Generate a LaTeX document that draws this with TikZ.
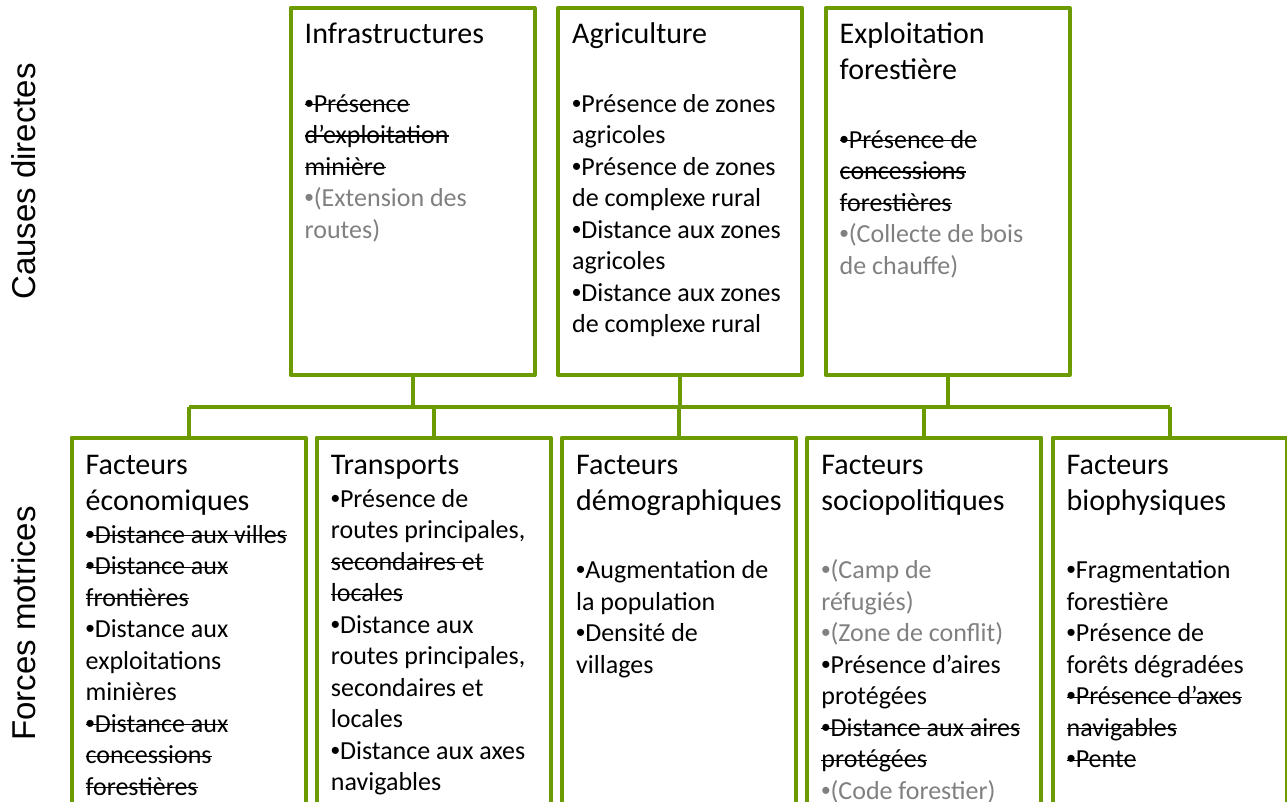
\documentclass[tikz,border=0pt]{standalone}
\usepackage{fontspec}
\setmainfont{Carlito}
\newfontfamily\sidefont{Liberation Sans}
\usepackage{tikz}
\usetikzlibrary{positioning}
\definecolor{boxGreen}{RGB}{107,155,0}
\definecolor{noteGray}{RGB}{128,128,128}
\newcommand{\head}[1]{{\fontsize{30}{36}\selectfont\rule{0pt}{22pt}#1}}
\newcommand{\bul}{{\sidefont •}}
\newsavebox{\gonebox}
\newcommand{\gone}[1]{\sbox{\gonebox}{#1}\rlap{\rule[6.8pt]{\wd\gonebox}{1.4pt}}\usebox{\gonebox}}
\newcommand{\hint}[1]{\textcolor{noteGray}{#1}}

\begin{document}
\begin{tikzpicture}[
        x=1pt, y=-1pt,
        node distance=23.5pt and 23.5pt,
        cause/.style={rectangle, draw=boxGreen, line width=4pt, line join=round, inner sep=0pt, outer sep=0pt, minimum width=244pt, minimum height=367pt},
        force/.style={rectangle, draw=boxGreen, line width=4pt, line join=round, inner sep=0pt, outer sep=0pt, minimum width=234pt, minimum height=420pt},
        txt/.style={anchor=north west, align=left, inner sep=0pt, font=\fontsize{26}{31.5}\selectfont},
        side/.style={anchor=base, rotate=90, inner sep=0pt, font=\sidefont\fontsize{33}{40}\selectfont},
        link/.style={draw=boxGreen, line width=4pt, line join=round}
    ]
        \useasboundingbox (0,0) rectangle (1287,802);
        \clip (0,0) rectangle (1287,802);

        % Side labels
        \node[side] (causes) at (35.5,181.5) {Causes directes};
        \node[side] (forces) at (35.5,623.5) {Forces motrices};

        % Causes directes
        \node[cause] (infra) at (412.5,191.5) {};
        \node[cause, right=of infra] (agri) {};
        \node[cause, right=of agri] (explo) {};

        % Forces motrices
        \node[force] (eco) at (188.5,647.5) {};
        \node[force, right=11.25pt of eco] (trans) {};
        \node[force, right=11.25pt of trans] (demo) {};
        \node[force, right=11.25pt of demo] (socio) {};
        \node[force, right=11.25pt of socio] (bio) {};

        % Connectors
        \coordinate (bus) at (0,406.5);
        \draw[link] (eco.north |- bus) -- (bio.north |- bus);
        \foreach \n in {infra,agri,explo}
            \draw[link] (\n.south) -- (\n.south |- bus);
        \foreach \n in {eco,trans,demo,socio,bio}
            \draw[link] (\n.north) -- (\n.north |- bus);

        % Texts
        \node[txt] (infraT) at ([shift={(14,13.5)}]infra.north west) {
            \head{Infrastructures}\\[37pt]
            \gone{\bul Présence}\\
            \gone{d’exploitation}\\
            \gone{minière}\\
            \hint{\bul(Extension des}\\
            \hint{routes)}
        };
        \node[txt] (agriT) at ([shift={(14,13.5)}]agri.north west) {
            \head{Agriculture}\\[37pt]
            \bul Présence de zones\\
            agricoles\\
            \bul Présence de zones\\
            de complexe rural\\
            \bul Distance aux zones\\
            agricoles\\
            \bul Distance aux zones\\
            de complexe rural
        };
        \node[txt] (exploT) at ([shift={(14,13.5)}]explo.north west) {
            \head{Exploitation}\\[4.5pt]
            \head{forestière}\\[37pt]
            \gone{\bul Présence de}\\
            \gone{concessions}\\
            \gone{forestières}\\
            \hint{\bul(Collecte de bois}\\
            \hint{de chauffe)}
        };
        \node[txt] (ecoT) at ([shift={(14,14.5)}]eco.north west) {
            \head{Facteurs}\\[4.5pt]
            \head{économiques}\\[1.5pt]
            \gone{\bul Distance aux villes}\\
            \gone{\bul Distance aux}\\
            \gone{frontières}\\
            \bul Distance aux\\
            exploitations\\
            minières\\
            \gone{\bul Distance aux}\\
            \gone{concessions}\\
            \gone{forestières}
        };
        \node[txt] (transT) at ([shift={(14,14.5)}]trans.north west) {
            \head{Transports}\\[1.5pt]
            \bul Présence de\\
            routes principales,\\
            \gone{secondaires et}\\
            \gone{locales}\\
            \bul Distance aux\\
            routes principales,\\
            secondaires et\\
            locales\\
            \bul Distance aux axes\\
            navigables
        };
        \node[txt] (demoT) at ([shift={(14,14.5)}]demo.north west) {
            \head{Facteurs}\\[4.5pt]
            \head{démographiques}\\[37pt]
            \bul Augmentation de\\
            la population\\
            \bul Densité de\\
            villages
        };
        \node[txt] (socioT) at ([shift={(14,14.5)}]socio.north west) {
            \head{Facteurs}\\[4.5pt]
            \head{sociopolitiques}\\[37pt]
            \hint{\bul(Camp de}\\
            \hint{réfugiés)}\\
            \hint{\bul(Zone de conflit)}\\
            \bul Présence d’aires\\
            protégées\\
            \gone{\bul Distance aux aires}\\
            \gone{protégées}\\
            \hint{\bul(Code forestier)}
        };
        \node[txt] (bioT) at ([shift={(14,14.5)}]bio.north west) {
            \head{Facteurs}\\[4.5pt]
            \head{biophysiques}\\[37pt]
            \bul Fragmentation\\
            forestière\\
            \bul Présence de\\
            forêts dégradées\\
            \gone{\bul Présence d’axes}\\
            \gone{navigables}\\
            \gone{\bul Pente}
        };

    \end{tikzpicture}
\end{document}
